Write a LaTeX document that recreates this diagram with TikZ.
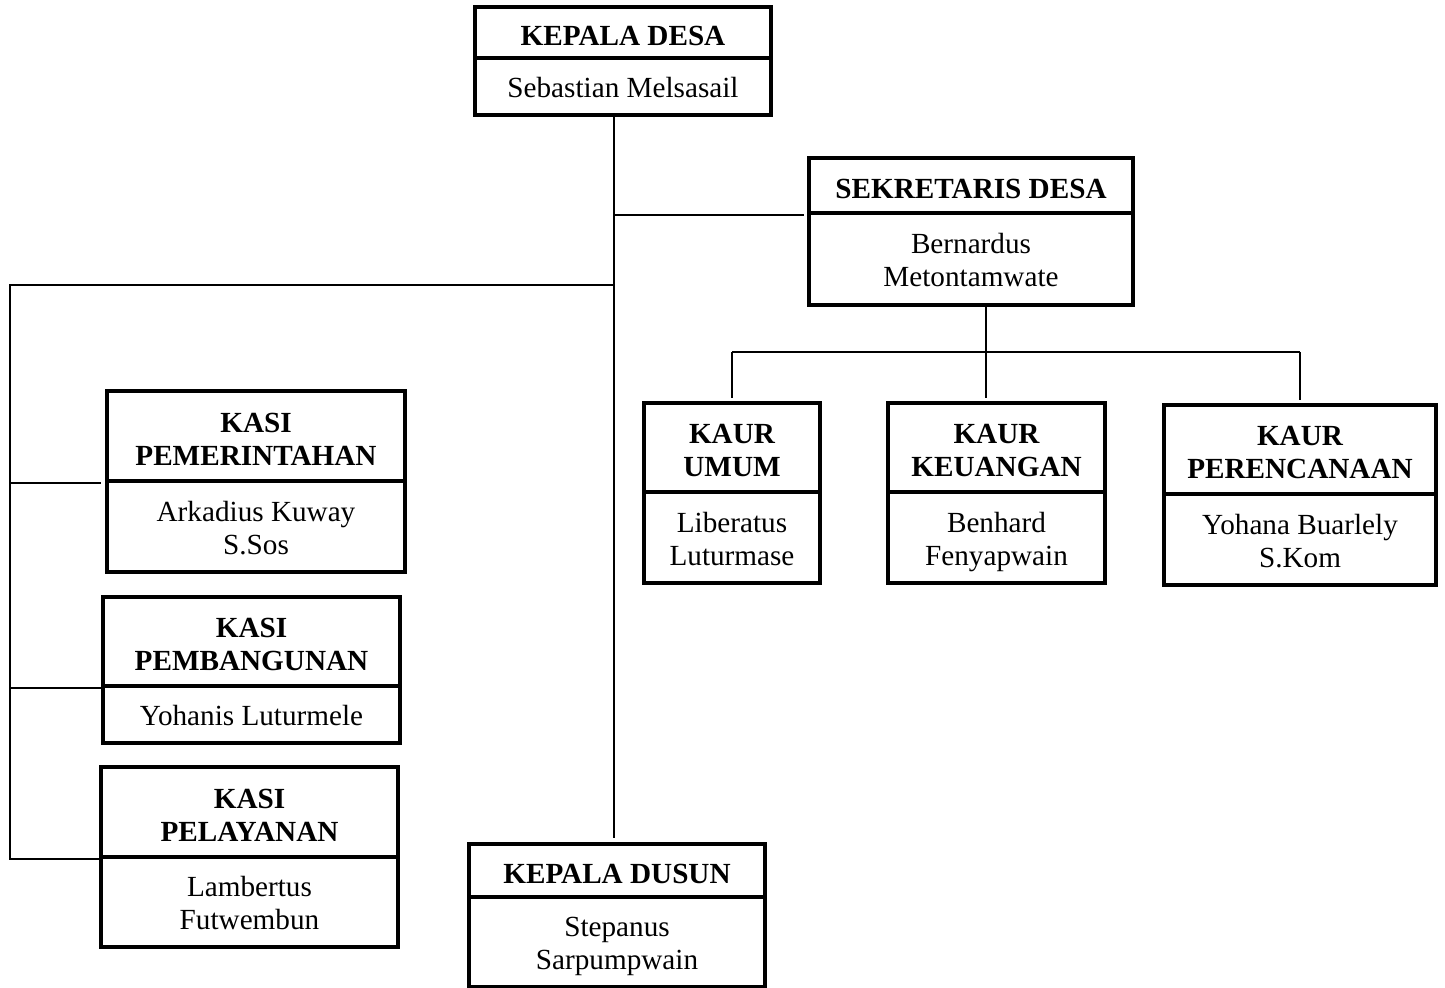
\documentclass[tikz,border=0pt]{standalone}
\usepackage{fontspec}
\setmainfont{Liberation Serif}
\begin{document}
\begin{tikzpicture}[x=0.5pt,y=-0.5pt]
        \tikzstyle{box_style} = [rectangle,draw=black,line width=1.6pt,inner xsep=2pt,inner ysep=1pt,align=center,font=\fontsize{14.6}{16.5}\selectfont,text depth=4pt,text height=15.2pt]
        \tikzstyle{box2_style} = [box_style,text height=31.7pt]
        \tikzstyle{head_style} = [box_style,font=\fontsize{14.6}{16.5}\selectfont\bfseries,text height=16.6pt]
        \tikzstyle{head2_style} = [head_style,text height=33.1pt]
        \tikzstyle{edge_style} = [draw=black,line width=1pt]
        \useasboundingbox (0,0) rectangle (1445,988);
        % kepala desa
        \node[head_style,minimum width=148pt,minimum height=25.5pt] (kades) at (623,32.5) {KEPALA DESA};
        \node[box_style,minimum width=148pt,minimum height=28.5pt] (kades_nm) at (623,86.5) {Sebastian Melsasail};
        % sekretaris
        \node[head_style,minimum width=162pt,minimum height=27.5pt] (sekdes) at (971,185.5) {SEKRETARIS DESA};
        \node[box2_style,minimum width=162pt,minimum height=46pt] (sekdes_nm) at (971,259) {Bernardus\\Metontamwate};
        % kaur
        \node[head2_style,minimum width=88pt,minimum height=44.5pt] (kaur_umum) at (732,447.5) {KAUR\\UMUM};
        \node[box2_style,minimum width=88pt,minimum height=45.5pt] (kaur_umum_nm) at (732,537.5) {Liberatus\\Luturmase};
        \node[head2_style,minimum width=108.5pt,minimum height=44.5pt] (kaur_keu) at (996.5,447.5) {KAUR\\KEUANGAN};
        \node[box2_style,minimum width=108.5pt,minimum height=45.5pt] (kaur_keu_nm) at (996.5,537.5) {Benhard\\Fenyapwain};
        \node[head2_style,minimum width=136pt,minimum height=44.5pt] (kaur_ren) at (1300,449.5) {KAUR\\PERENCANAAN};
        \node[box2_style,minimum width=136pt,minimum height=45.5pt] (kaur_ren_nm) at (1300,539.5) {Yohana Buarlely\\S.Kom};
        % kasi
        \node[head2_style,minimum width=149pt,minimum height=45pt] (kasi_pem) at (256,436) {KASI\\PEMERINTAHAN};
        \node[box2_style,minimum width=149pt,minimum height=45.5pt] (kasi_pem_nm) at (256,526.5) {Arkadius Kuway\\S.Sos};
        \node[head2_style,minimum width=148.5pt,minimum height=44.5pt] (kasi_bang) at (251.5,641.5) {KASI\\PEMBANGUNAN};
        \node[box_style,minimum width=148.5pt,minimum height=28.5pt] (kasi_bang_nm) at (251.5,714.5) {Yohanis Luturmele};
        \node[head2_style,minimum width=148.5pt,minimum height=45pt] (kasi_lay) at (249.5,812) {KASI\\PELAYANAN};
        \node[box2_style,minimum width=148.5pt,minimum height=45pt] (kasi_lay_nm) at (249.5,902) {Lambertus\\Futwembun};
        % kepala dusun
        \node[head_style,minimum width=148pt,minimum height=26.5pt] (kadus) at (617,870.5) {KEPALA DUSUN};
        \node[box2_style,minimum width=148pt,minimum height=45pt] (kadus_nm) at (617,942) {Stepanus\\Sarpumpwain};
        % lines
        \coordinate (trunk) at (614,285);
        \coordinate (rail) at (10,285);
        \coordinate (bus) at (986,352);
        \draw[edge_style,shorten >=2pt] (kades_nm.south -| trunk) -- (kadus.north -| trunk);
        \draw[edge_style,shorten >=1.5pt] (sekdes.south west -| trunk) -- (sekdes.south west);
        \draw[edge_style] (trunk) -- (rail) -- (rail |- kasi_lay.south west) -- (kasi_lay.south west);
        \draw[edge_style,shorten >=2pt] (rail |- kasi_pem.south west) -- (kasi_pem.south west);
        \draw[edge_style] (rail |- kasi_bang.south west) -- (kasi_bang.south west);
        \draw[edge_style] (sekdes_nm.south -| bus) -- (bus);
        \draw[edge_style] (bus -| kaur_umum.north) -- (bus -| kaur_ren.north);
        \draw[edge_style,shorten >=1.5pt] (bus -| kaur_umum.north) -- (kaur_umum.north);
        \draw[edge_style,shorten >=1.5pt] (bus) -- (bus |- kaur_keu.north);
        \draw[edge_style,shorten >=1.5pt] (bus -| kaur_ren.north) -- (kaur_ren.north);
      \end{tikzpicture}
\end{document}
